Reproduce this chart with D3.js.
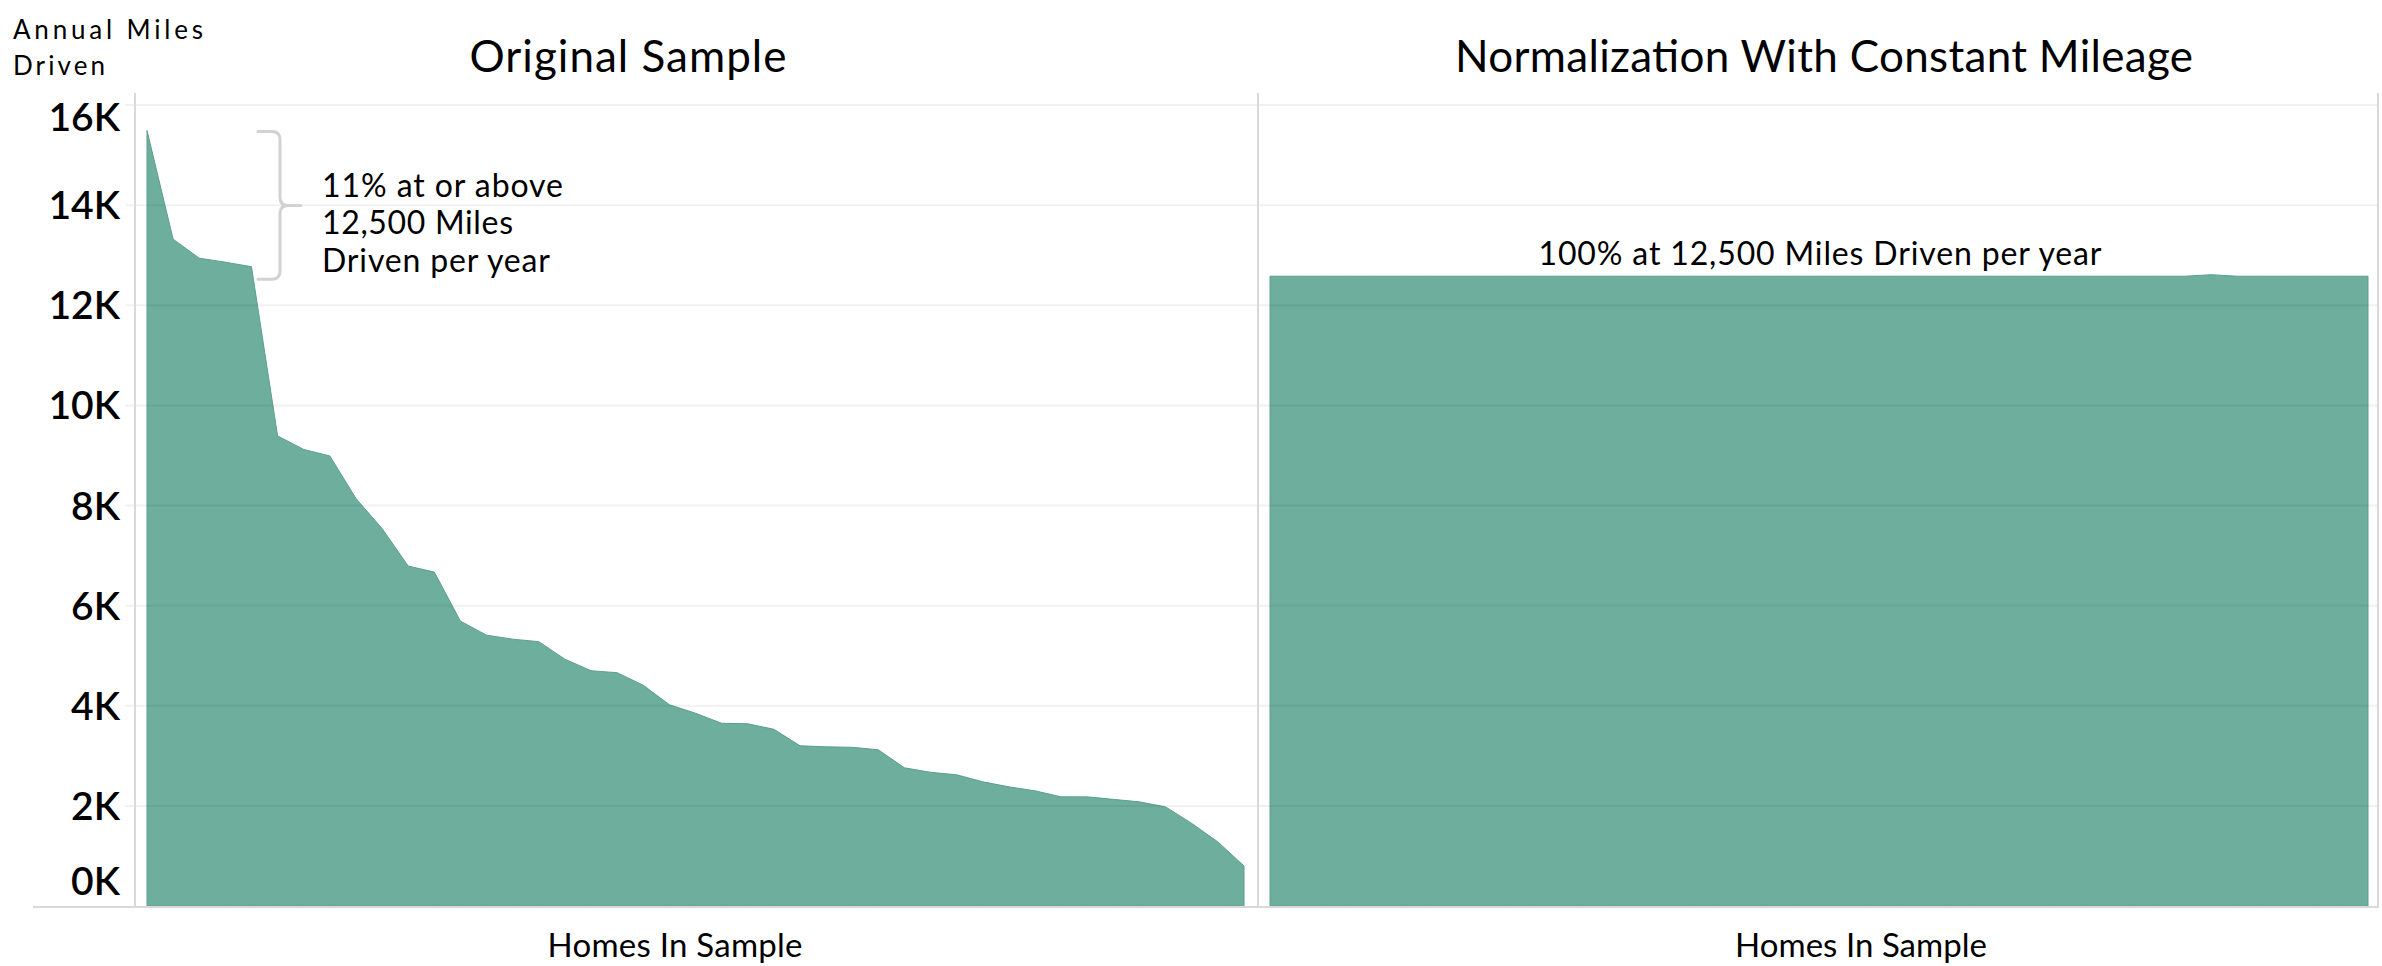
<!DOCTYPE html>
<html>
<head>
<meta charset="utf-8">
<script src="https://cdn.jsdelivr.net/npm/d3@7"></script>
<style>
  html, body { margin: 0; padding: 0; background: #fff; }
  svg { display: block; }
  text { font-family: Lato, "Open Sans", sans-serif; fill: #000; }
</style>
</head>
<body>
<svg id="chart" width="2382" height="966"></svg>
<script>
// ---------- DATA ----------
const panelTitles = ["Original Sample", "Normalization With Constant Mileage"];
const xAxisTitle = "Homes In Sample";
const yAxisTitle = ["Annual Miles", "Driven"];
const yTickValues = [0, 2000, 4000, 6000, 8000, 10000, 12000, 14000, 16000];
const yTickLabels = ["0K", "2K", "4K", "6K", "8K", "10K", "12K", "14K", "16K"];

// Annual miles per home, sorted (original sample)
const originalMiles = [15490, 13320, 12940, 12860, 12770, 9390, 9120, 8990, 8140, 7540,
  6790, 6670, 5690, 5410, 5330, 5280, 4930, 4700, 4660, 4410,
  4020, 3850, 3650, 3640, 3530, 3200, 3180, 3170, 3120, 2760,
  2670, 2620, 2480, 2380, 2300, 2180, 2180, 2130, 2080, 1980,
  1650, 1280, 800];
// Normalized sample (constant mileage)
const normalizedMiles = [12580, 12580, 12580, 12580, 12580, 12580, 12580, 12580, 12580, 12580,
  12580, 12580, 12580, 12580, 12580, 12580, 12580, 12580, 12580, 12580,
  12580, 12580, 12580, 12580, 12580, 12580, 12580, 12580, 12580, 12580,
  12580, 12580, 12580, 12580, 12580, 12580, 12610, 12580, 12580, 12580,
  12580, 12580, 12580];
const thresholdMiles = 12500;
const leftNote = ["11% at or above", "12,500 Miles", "Driven per year"];
const rightNote = "100% at 12,500 Miles Driven per year";

// ---------- LAYOUT ----------
const svg = d3.select("#chart");
const fillColor = "#6dae9d", strokeColor = "#5c9f8c";
const axisGrey = "#d9d9d9";
const paneTop = 93, baseY = 906;

const y = d3.scaleLinear().domain([0, 16000]).range([baseY, 105]);
const xLeft = d3.scaleLinear().domain([0, originalMiles.length - 1]).range([147, 1244]);
const xRight = d3.scaleLinear().domain([0, normalizedMiles.length - 1]).range([1270, 2368]);

function fitText(sel, width) {
  sel.attr("textLength", width).attr("lengthAdjust", "spacing");
  return sel;
}

// Areas
const areaL = d3.area().x((d, i) => xLeft(i)).y0(y(0)).y1(d => y(d));
const areaR = d3.area().x((d, i) => xRight(i)).y0(y(0)).y1(d => y(d));
svg.append("path").datum(originalMiles).attr("d", areaL)
  .attr("fill", fillColor).attr("stroke", strokeColor).attr("stroke-width", 1);
svg.append("path").datum(normalizedMiles).attr("d", areaR)
  .attr("fill", fillColor).attr("stroke", strokeColor).attr("stroke-width", 1);

// Gridlines (drawn on top, translucent)
svg.append("g").selectAll("line").data(yTickValues.filter(v => v > 0)).join("line")
  .attr("x1", 125).attr("x2", 2378)
  .attr("y1", d => y(d)).attr("y2", d => y(d))
  .attr("stroke", "rgba(0,0,0,0.055)").attr("stroke-width", 2);

// Baseline and vertical axis / divider lines
svg.append("line").attr("x1", 33).attr("x2", 2379).attr("y1", baseY + 1).attr("y2", baseY + 1)
  .attr("stroke", axisGrey).attr("stroke-width", 2);
[135, 1258, 2378].forEach(xx => {
  svg.append("line").attr("x1", xx).attr("x2", xx).attr("y1", paneTop).attr("y2", baseY)
    .attr("stroke", axisGrey).attr("stroke-width", 2);
});

// Y tick labels (clamped inside pane like the original)
svg.append("g").selectAll("text").data(yTickValues).join("text")
  .attr("x", 120)
  .attr("y", d => Math.max(117, Math.min(881, y(d))) + 14)
  .attr("text-anchor", "end")
  .attr("font-size", 39)
  .attr("font-weight", 600)
  .text((d, i) => yTickLabels[i]);

// Y axis title
svg.append("text").attr("x", 13).attr("y", 39).attr("font-size", 26).text(yAxisTitle[0])
  .call(fitText, 190);
svg.append("text").attr("x", 13).attr("y", 75).attr("font-size", 26).text(yAxisTitle[1])
  .call(fitText, 92);

// Panel titles
svg.append("text").attr("x", 628).attr("y", 72).attr("text-anchor", "middle")
  .attr("font-size", 44).text(panelTitles[0]).call(fitText, 317);
svg.append("text").attr("x", 1824).attr("y", 72).attr("text-anchor", "middle")
  .attr("font-size", 44).text(panelTitles[1]).call(fitText, 738);

// X axis titles
svg.append("text").attr("x", 675).attr("y", 957).attr("text-anchor", "middle")
  .attr("font-size", 33).text(xAxisTitle).call(fitText, 255);
svg.append("text").attr("x", 1861).attr("y", 957).attr("text-anchor", "middle")
  .attr("font-size", 33).text(xAxisTitle).call(fitText, 252);

// Bracket annotation on left panel
const bTop = y(d3.max(originalMiles)) + 1, bBot = y(thresholdMiles) - 1;
const bMid = (bTop + bBot) / 2;
const bx0 = 258, bx1 = 280, bx2 = 301, r = 8;
const bracket = d3.path();
bracket.moveTo(bx0, bTop); bracket.lineTo(bx1 - r, bTop);
bracket.quadraticCurveTo(bx1, bTop, bx1, bTop + r);
bracket.lineTo(bx1, bMid - r);
bracket.quadraticCurveTo(bx1, bMid, bx1 + r, bMid);
bracket.lineTo(bx2, bMid);
bracket.moveTo(bx1 + r, bMid);
bracket.quadraticCurveTo(bx1, bMid, bx1, bMid + r);
bracket.lineTo(bx1, bBot - r);
bracket.quadraticCurveTo(bx1, bBot, bx1 - r, bBot);
bracket.lineTo(bx0, bBot);
svg.append("path").attr("d", bracket.toString()).attr("fill", "none")
  .attr("stroke", "#d2d2d2").attr("stroke-width", 3).attr("stroke-linecap", "round");

const noteWidths = [241, 191, 228];
leftNote.forEach((t, i) => {
  svg.append("text").attr("x", 322).attr("y", [197, 234, 272][i])
    .attr("font-size", 32).text(t).call(fitText, noteWidths[i]);
});

svg.append("text").attr("x", 1820).attr("y", 265).attr("text-anchor", "middle")
  .attr("font-size", 32).text(rightNote).call(fitText, 563);
</script>
</body>
</html>
